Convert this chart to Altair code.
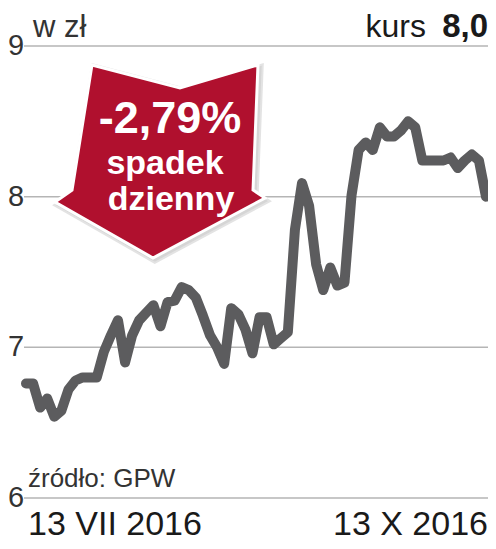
import altair as alt
import pandas as pd

# ---- data ----
prices = [6.76, 6.76, 6.60, 6.66, 6.54, 6.58, 6.72, 6.78, 6.80, 6.80,
          6.80, 6.97, 7.08, 7.18, 6.90, 7.08, 7.18, 7.23, 7.28, 7.14,
          7.30, 7.31, 7.40, 7.38, 7.33, 7.21, 7.08, 7.00, 6.89, 7.26,
          7.22, 7.12, 6.96, 7.20, 7.20, 7.02, 7.06, 7.10, 7.78, 8.09,
          7.94, 7.55, 7.38, 7.53, 7.41, 7.43, 8.01, 8.31, 8.36, 8.31,
          8.46, 8.40, 8.40, 8.44, 8.50, 8.46, 8.24, 8.24, 8.24, 8.24,
          8.26, 8.19, 8.24, 8.28, 8.24, 8.00]
session = list(range(len(prices)))

grid_values = [6, 7, 8, 9]
grid_labels = ["6", "7", "8", "9"]

date_labels = ["13 VII 2016", "13 X 2016"]
date_session = [0, 65]

arrow_lines = ["-2,79%", "spadek", "dzienny"]
unit_label = "w zł"
kurs_label = "kurs"
kurs_value = "8,0"
source_label = "źródło: GPW"

FONT = "Liberation Sans, Arial, Roboto, sans-serif"
RED = "#b0102e"
LINE = "#5c5c5e"

ARROW = ("M -0.648 -0.905 L 0.19 -0.686 L 0.933 -0.905 L 0.886 0.286 "
         "L 1 0.362 L -0.067 0.933 L -1 0.4 L -0.838 0.286 Z")

xs = alt.Scale(domain=[0, 65], range=[18, 478])
ys = alt.Scale(domain=[6, 9], range=[490, 38])

line_df = pd.DataFrame({"day": session, "price": prices})
grid_df = pd.DataFrame({"v": grid_values, "label": grid_labels})
date_df = pd.DataFrame({"day": date_session, "label": date_labels})
one = pd.DataFrame({"k": [0]})

grid = alt.Chart(grid_df).mark_rule(color="#b5b5b5", strokeWidth=1.5).encode(
    y=alt.Y("v:Q", scale=ys, axis=None),
    x=alt.value(16), x2=alt.value(480))

ylabels = alt.Chart(grid_df).mark_text(
    align="left", baseline="middle", fontSize=29, font=FONT, color="#333333"
).encode(y=alt.Y("v:Q", scale=ys, axis=None), x=alt.value(0), text="label:N")

line = alt.Chart(line_df).mark_line(
    color=LINE, strokeWidth=10, strokeJoin="round", strokeCap="round"
).encode(x=alt.X("day:Q", scale=xs, axis=None),
         y=alt.Y("price:Q", scale=ys, axis=None))

date_left = alt.Chart(date_df).transform_filter("datum.day == 0").mark_text(
    align="left", baseline="alphabetic", fontSize=34, font=FONT, color="#1a1a1a", dx=2
).encode(x=alt.X("day:Q", scale=xs, axis=None), y=alt.value(527), text="label:N")

date_right = alt.Chart(date_df).transform_filter("datum.day == 65").mark_text(
    align="right", baseline="alphabetic", fontSize=34, font=FONT, color="#1a1a1a", dx=2
).encode(x=alt.X("day:Q", scale=xs, axis=None), y=alt.value(527), text="label:N")

shadow = alt.Chart(one).mark_point(
    shape=ARROW, size=46656, filled=True, fill="#c4c4c4", stroke="#d8d8d8",
    strokeWidth=2, opacity=0.7
).encode(x=alt.value(154), y=alt.value(154))

arrow = alt.Chart(one).mark_point(
    shape=ARROW, size=44100, filled=True, fill=RED, stroke="white",
    strokeWidth=3, opacity=1
).encode(x=alt.value(152), y=alt.value(152))

t1 = alt.Chart(one).mark_text(
    text=arrow_lines[0], fontSize=45, fontWeight="bold", font=FONT, color="white",
    align="center", baseline="alphabetic"
).encode(x=alt.value(162), y=alt.value(125))
t2 = alt.Chart(one).mark_text(
    text=arrow_lines[1], fontSize=34, fontWeight="bold", font=FONT, color="white",
    align="center", baseline="alphabetic"
).encode(x=alt.value(157), y=alt.value(166))
t3 = alt.Chart(one).mark_text(
    text=arrow_lines[2], fontSize=34, fontWeight="bold", font=FONT, color="white",
    align="center", baseline="alphabetic"
).encode(x=alt.value(163), y=alt.value(202))

unit = alt.Chart(one).mark_text(
    text=unit_label, fontSize=31, font=FONT, color="#333333",
    align="left", baseline="alphabetic"
).encode(x=alt.value(25), y=alt.value(29))
kurs = alt.Chart(one).mark_text(
    text=kurs_label, fontSize=32, font=FONT, color="#1a1a1a",
    align="right", baseline="alphabetic"
).encode(x=alt.value(418), y=alt.value(29))
kval = alt.Chart(one).mark_text(
    text=kurs_value, fontSize=33, fontWeight="bold", font=FONT, color="#1a1a1a",
    align="right", baseline="alphabetic"
).encode(x=alt.value(480), y=alt.value(29))

source = alt.Chart(one).mark_text(
    text=source_label, fontSize=26, font=FONT, color="#333333",
    align="left", baseline="alphabetic"
).encode(x=alt.value(20), y=alt.value(479))

chart = alt.layer(
    grid, ylabels, line, shadow, arrow, t1, t2, t3,
    unit, kurs, kval, source, date_left, date_right
).properties(width=480, height=533, padding=0, autosize="none").configure_view(stroke=None)

chart.save("out.html", embed_options={"renderer": "svg", "actions": False})
